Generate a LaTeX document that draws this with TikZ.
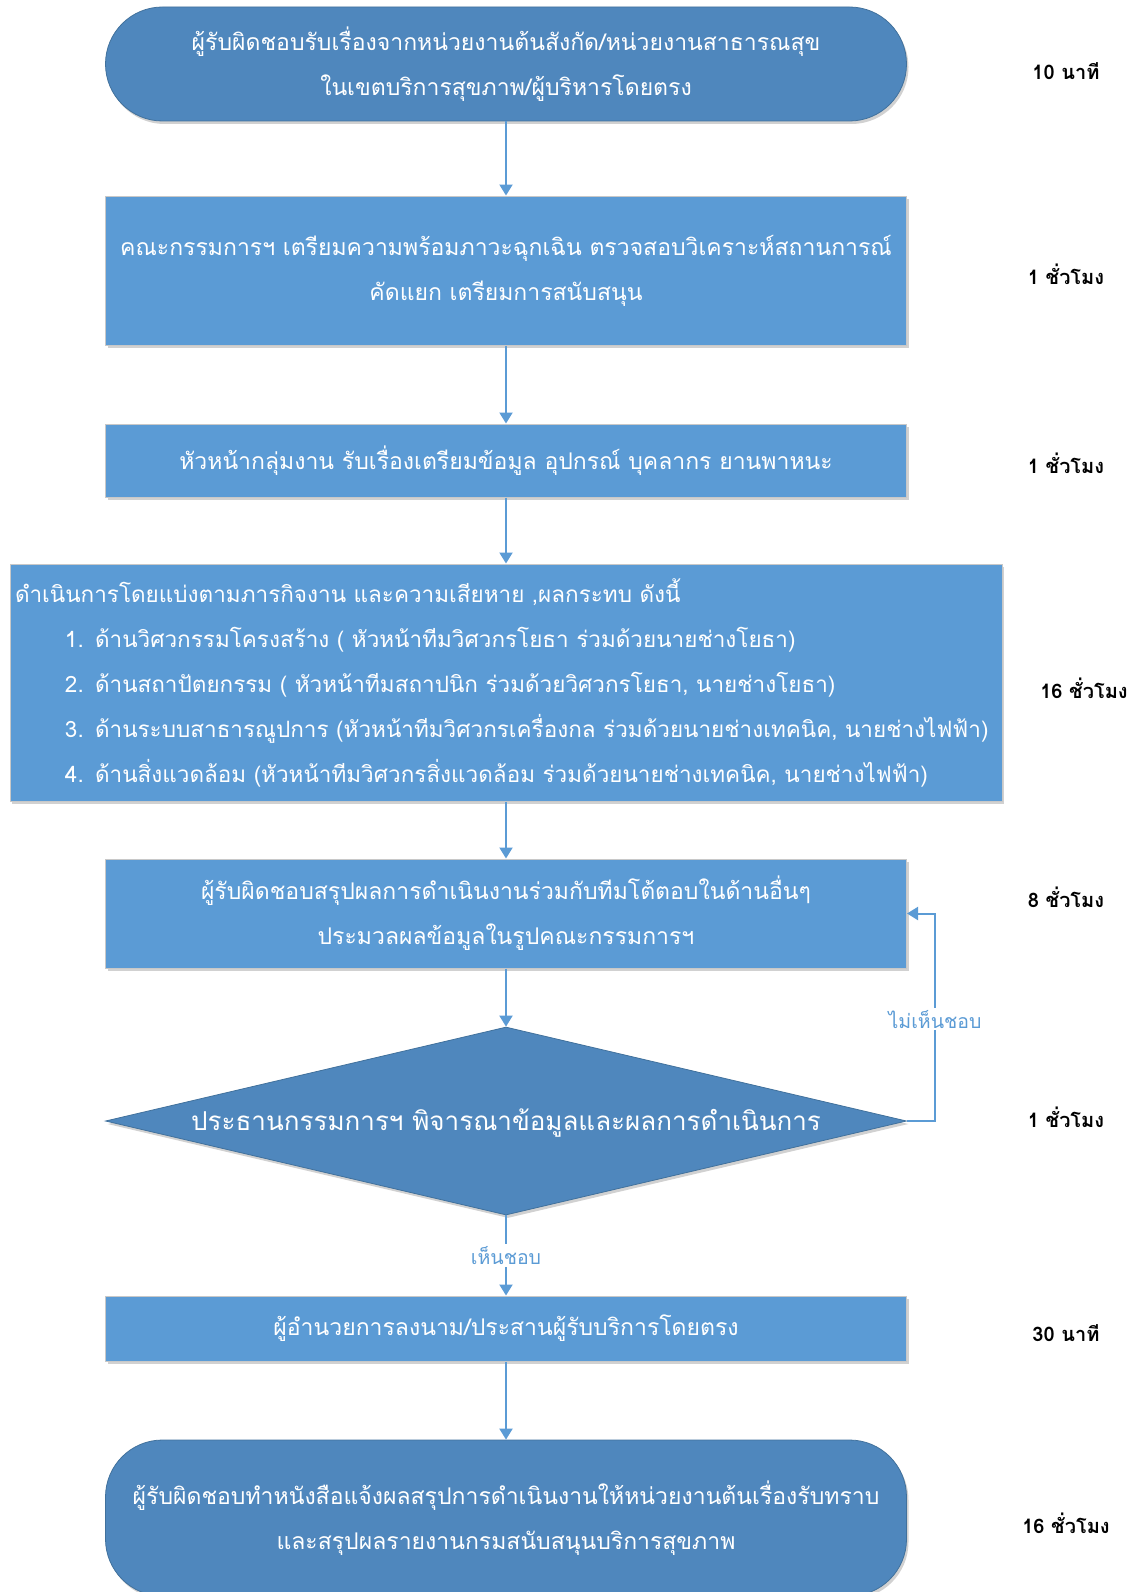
\documentclass[tikz,border=0pt]{standalone}
\usepackage{fontspec}
\setmainfont[Script=Thai]{Loma}
\usetikzlibrary{arrows.meta,shapes.geometric,shadows}
\definecolor{boxblue}{HTML}{5B9BD5}
\definecolor{darkblue}{HTML}{4F87BD}
\definecolor{darkedge}{HTML}{41719C}
\definecolor{edgegray}{HTML}{C8C8C8}
\begin{document}
\begin{tikzpicture}[x=1pt,y=-1pt,
  shad/.style={drop shadow={shadow xshift=2pt,shadow yshift=-3pt,opacity=0.18,fill=black}},
  stadium/.style={rectangle,rounded corners=57pt,fill=darkblue,draw=darkedge,line width=0.8pt,
    minimum width=801pt,text=white,align=center,font=\boxfont,shad},
  stepbox/.style={rectangle,fill=boxblue,draw=edgegray,line width=1pt,minimum width=801pt,
    text=white,align=center,font=\boxfont,shad},
  decision/.style={diamond,fill=darkblue,draw=darkedge,line width=0.8pt,minimum width=801pt,
    minimum height=188pt,inner sep=0pt,shad},
  conn/.style={draw=boxblue,line width=2pt,-{Triangle[width=13pt,length=11pt]}},
  lbl/.style={text=boxblue,font=\fontsize{19.5}{22}\selectfont,fill=white,inner sep=2pt},
  timelbl/.style={text=black,font=\bfseries\fontsize{20}{22}\selectfont,anchor=center}
]
\newcommand{\boxfont}{\fontsize{23}{45}\selectfont}
\clip (0,0) rectangle (1140,1592);
\fill[white] (0,0) rectangle (1140,1592);

\node[stadium,minimum height=114pt] (top) at (506,64)
  {ผู้รับผิดชอบรับเรื่องจากหน่วยงานต้นสังกัด/หน่วยงานสาธารณสุข\\ในเขตบริการสุขภาพ/ผู้บริหารโดยตรง};
\node[stepbox,minimum height=149pt] (b2) at (506,270.5)
  {คณะกรรมการฯ เตรียมความพร้อมภาวะฉุกเฉิน ตรวจสอบวิเคราะห์สถานการณ์\\คัดแยก เตรียมการสนับสนุน};
\node[stepbox,minimum height=73pt] (b3) at (506,460.5)
  {หัวหน้ากลุ่มงาน รับเรื่องเตรียมข้อมูล อุปกรณ์ บุคลากร ยานพาหนะ};
\node[stepbox,minimum width=992pt,minimum height=237pt,text width=982pt,align=left,inner xsep=5pt,
  font=\fontsize{22.5}{45}\selectfont] (b4) at (506,682.5)
  {\mbox{ดำเนินการโดยแบ่งตามภารกิจงาน และความเสียหาย ,ผลกระทบ ดังนี้}\\
   \mbox{\hspace*{50pt}1. ด้านวิศวกรรมโครงสร้าง ( หัวหน้าทีมวิศวกรโยธา ร่วมด้วยนายช่างโยธา)}\\
   \mbox{\hspace*{50pt}2. ด้านสถาปัตยกรรม ( หัวหน้าทีมสถาปนิก ร่วมด้วยวิศวกรโยธา, นายช่างโยธา)}\\
   \mbox{\hspace*{50pt}3. ด้านระบบสาธารณูปการ (หัวหน้าทีมวิศวกรเครื่องกล ร่วมด้วยนายช่างเทคนิค, นายช่างไฟฟ้า)}\\
   \mbox{\hspace*{50pt}4. ด้านสิ่งแวดล้อม (หัวหน้าทีมวิศวกรสิ่งแวดล้อม ร่วมด้วยนายช่างเทคนิค, นายช่างไฟฟ้า)}};
\node[stepbox,minimum height=109pt] (b5) at (506,913.5)
  {ผู้รับผิดชอบสรุปผลการดำเนินงานร่วมกับทีมโต้ตอบในด้านอื่นๆ\\ประมวลผลข้อมูลในรูปคณะกรรมการฯ};
\node[decision] (dia) at (506,1121) {};
\node[text=white,font=\fontsize{26}{30}\selectfont] (diatext) at (506,1123)
  {ประธานกรรมการฯ พิจารณาข้อมูลและผลการดำเนินการ};
\node[stepbox,minimum height=65pt] (b7) at (506,1328.5)
  {ผู้อำนวยการลงนาม/ประสานผู้รับบริการโดยตรง};
\node[stadium,minimum height=156pt] (bot) at (506,1518)
  {ผู้รับผิดชอบทำหนังสือแจ้งผลสรุปการดำเนินงานให้หน่วยงานต้นเรื่องรับทราบ\\และสรุปผลรายงานกรมสนับสนุนบริการสุขภาพ};

\draw[conn] (top) -- (b2);
\draw[conn] (b2) -- (b3);
\draw[conn] (b3) -- (b4);
\draw[conn] (b4) -- (b5);
\draw[conn] (b5) -- (dia);
\draw[conn] (dia) -- node[lbl,pos=0.5] (yes) {เห็นชอบ} (b7);
\draw[conn] (b7) -- (bot);
\coordinate (fb) at (935,1121);
\draw[conn] (dia.east) -- (fb) -- node[lbl,pos=0.49] (no) {ไม่เห็นชอบ} (fb |- b5.east) -- (b5.east);

\node[timelbl] (t1) at (1066,71) {10 นาที};
\node[timelbl] (t2) at (1066,274) {1 ชั่วโมง};
\node[timelbl] (t3) at (1066,463) {1 ชั่วโมง};
\node[timelbl] (t4) at (1084,688) {16 ชั่วโมง};
\node[timelbl] (t5) at (1066,897) {8 ชั่วโมง};
\node[timelbl] (t6) at (1066,1117) {1 ชั่วโมง};
\node[timelbl] (t7) at (1066,1333) {30 นาที};
\node[timelbl] (t8) at (1066,1523) {16 ชั่วโมง};
\end{tikzpicture}
\end{document}
